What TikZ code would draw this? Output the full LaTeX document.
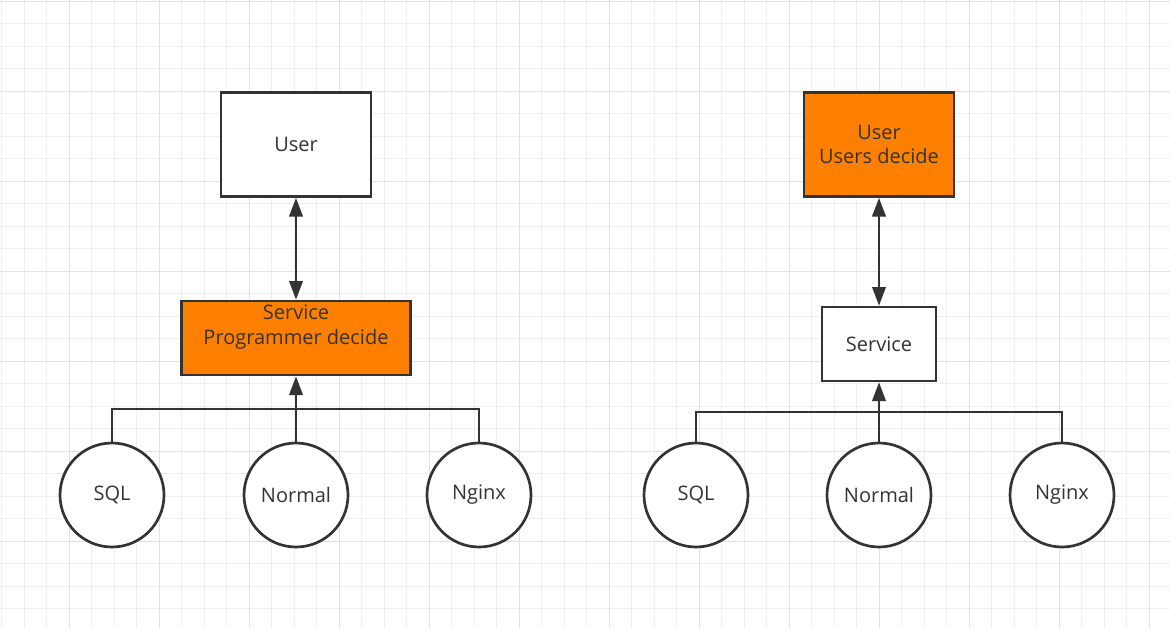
\documentclass[tikz,border=0pt]{standalone}
\usepackage{fontspec}
\setmainfont{Open Sans}
\usetikzlibrary{arrows.meta}
\definecolor{ink}{HTML}{333333}
\definecolor{fillorange}{HTML}{FF8000}
\definecolor{gridminor}{HTML}{EFEFEF}
\definecolor{gridmajor}{HTML}{E2E2E2}
\begin{document}
\begin{tikzpicture}[
    x=0.75pt, y=-0.75pt,
    box/.style={draw=ink, line width=2pt, fill=white, text=ink, align=center, inner sep=0pt},
    hot/.style={box, fill=fillorange},
    source/.style={draw=ink, line width=2pt, fill=white, text=ink, circle, minimum size=78pt, inner sep=0pt},
    wire/.style={draw=ink, line width=2pt},
    tip/.style={-{Triangle[length=14pt, width=10pt]}},
    bothtips/.style={{Triangle[length=14pt, width=10pt]}-{Triangle[length=14pt, width=10pt]}},
    font=\fontsize{15}{18.5}\selectfont
]

% Fond et grille
\useasboundingbox (0,0) rectangle (1170,628);
\fill[white] (0,0) rectangle (1170,628);
\foreach \k in {0,...,52} {
  \draw[gridminor, line width=0.75pt] (1.5+22.5*\k,0) -- (1.5+22.5*\k,628);
}
\foreach \k in {0,...,28} {
  \draw[gridminor, line width=0.75pt] (0,1+22.5*\k) -- (1170,1+22.5*\k);
}
\foreach \k in {0,...,12} {
  \draw[gridmajor, line width=0.75pt] (69+90*\k,0) -- (69+90*\k,628);
}
\foreach \k in {0,...,6} {
  \draw[gridmajor, line width=0.75pt] (0,1+90*\k) -- (1170,1+90*\k);
}

% Schema de gauche
\node[box, minimum width=112.5pt, minimum height=78pt] (userL) at (296,144.5) {User};
\node[hot, minimum width=171.75pt, minimum height=55.5pt] (serviceL) at (296,338) {};
\node[text=ink, align=center] (serviceLtext) at (296,327) {Service\\Programmer decide};

\node[source] (sqlL) at (112,495) {SQL};
\node[source] (normalL) at (296,495) {Normal};
\node[source] (nginxL) at (479,495) {Nginx};

\coordinate (busL) at (296,409);

\draw[wire, bothtips] (userL.south) -- (serviceL.north);
\draw[wire] (sqlL.north) |- (busL) -| (nginxL.north);
\draw[wire, tip] (normalL.north) -- (serviceL.south);

% Schema de droite
\node[hot, minimum width=112.5pt, minimum height=78pt] (userR) at (879,144.5) {User\\Users decide};
\node[box, minimum width=85.5pt, minimum height=55.5pt] (serviceR) at (879,344) {Service};

\node[source] (sqlR) at (696,495) {SQL};
\node[source] (normalR) at (879,495) {Normal};
\node[source] (nginxR) at (1062,495) {Nginx};

\coordinate (busR) at (879,412);

\draw[wire, bothtips] (userR.south) -- (serviceR.north);
\draw[wire] (sqlR.north) |- (busR) -| (nginxR.north);
\draw[wire, tip] (normalR.north) -- (serviceR.south);

\end{tikzpicture}
\end{document}
